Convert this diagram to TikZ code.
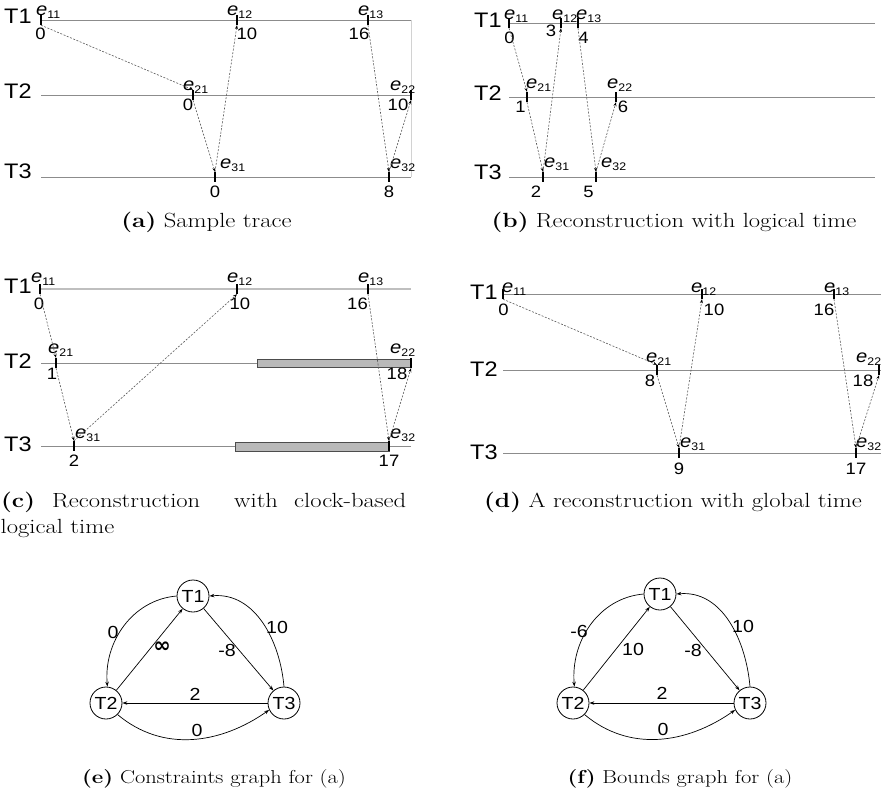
\documentclass[tikz,border=0pt]{standalone}
\usepackage{fontspec}
\usepackage{graphicx}
\usetikzlibrary{arrows.meta}
\newfontfamily\dsf{Liberation Sans}[FakeStretch=1.12]
\newfontfamily\djv{DejaVu Sans}
\newcommand\evt[1]{\textit{e}\raisebox{-3pt}{\fontsize{11}{11}\selectfont #1}}
\newcommand\capsz{\fontsize{20.5}{24.6}\selectfont}
\newcommand\capt[2]{\scalebox{1.2}[1]{\capsz\textbf{(#1)} #2}}
\newcommand\capts[2]{\scalebox{1.2}[1]{\fontsize{18.7}{22}\selectfont\textbf{(#1)} #2}}
\newcommand\capw[1]{\scalebox{1.2}[1]{\capsz #1}}
\tikzset{
  tline/.style={draw=gray!90, line width=0.9pt},
  tlinelight/.style={draw=gray!50, line width=1.3pt},
  tickn/.style={rectangle, fill=black, draw=none, inner sep=0pt, minimum width=2.4pt, minimum height=10pt},
  msg/.style={draw=gray!70!black, line width=0.6pt, dash pattern=on 2pt off 1.5pt, -{Stealth[length=4pt,width=3pt,black]}},
  tlab/.style={font=\dsf\fontsize{21}{21}\selectfont, inner sep=0pt, anchor=base west},
  numl/.style={font=\dsf\fontsize{16.5}{16.5}\selectfont, inner sep=0pt, anchor=base},
  evl/.style={font=\dsf\fontsize{18}{18}\selectfont, inner sep=0pt, anchor=base west},
  capn/.style={inner sep=0pt, anchor=base},
  capln/.style={inner sep=0pt, anchor=base west},
  hbar/.style={fill=gray!55, draw=gray!60!black, line width=0.5pt},
  gnode/.style={circle, draw=black, line width=0.8pt, minimum size=32pt, inner sep=0pt, font=\dsf\fontsize{17.5}{17.5}\selectfont},
  gedge/.style={draw=black, line width=0.7pt, -{Stealth[length=5pt,width=3.5pt]}},
  elab/.style={font=\dsf\fontsize{17.5}{17.5}\selectfont, inner sep=0pt},
}
\begin{document}
\begin{tikzpicture}[x=1pt,y=-1pt]
\useasboundingbox (0,0) rectangle (881,790);

% ================= (a) =================
\coordinate (a1s) at (41,20);  \coordinate (a1e) at (411,20);
\coordinate (a2s) at (41,95);  \coordinate (a2e) at (411,95);
\coordinate (a3s) at (41,177); \coordinate (a3e) at (411,177);
\draw[tline] (a1s) -- (a1e);
\draw[tline] (a2s) -- (a2e);
\draw[tline] (a3s) -- (a3e);
\draw[draw=gray!35, line width=0.6pt] (a1e) -- (a3e);
\node[tlab] (aT1) at (4,23) {T1};
\node[tlab] (aT2) at (4,98) {T2};
\node[tlab] (aT3) at (4,178) {T3};
\node[tickn] (a11) at (41,20) {};
\node[tickn] (a12) at (237,20) {};
\node[tickn] (a13) at (368,20) {};
\node[tickn] (a21) at (193,95) {};
\node[tickn] (a22) at (411,95) {};
\node[tickn] (a31) at (215,177) {};
\node[tickn] (a32) at (389,177) {};
\node[evl] (a11l) at (36,15) {\evt{11}};
\node[evl] (a12l) at (227,15) {\evt{12}};
\node[evl] (a13l) at (358,15) {\evt{13}};
\node[evl] (a21l) at (183,90) {\evt{21}};
\node[evl] (a22l) at (390,90) {\evt{22}};
\node[evl] (a31l) at (220,168) {\evt{31}};
\node[evl] (a32l) at (390,168) {\evt{32}};
\node[numl] (a11n) at (40.5,39) {0};
\node[numl] (a12n) at (247,39) {10};
\node[numl] (a13n) at (359,39) {16};
\node[numl] (a21n) at (188,110) {0};
\node[numl] (a22n) at (398,110) {10};
\node[numl] (a31n) at (215,197) {0};
\node[numl] (a32n) at (389,197) {8};
\draw[msg] (a11.south) -- (a21.north);
\draw[msg] (a21.south) -- (a31.north);
\draw[msg] (a31.north) -- (a12.south);
\draw[msg] (a13.south) -- (a32.north);
\draw[msg] (a32.north) -- (a22.south);
\node[capn] (capa) at (206.5,227) {\capt{a}{Sample trace}};

% ================= (b) =================
\coordinate (b1s) at (509,23);  \coordinate (b1e) at (875,23);
\coordinate (b2s) at (509,97);  \coordinate (b2e) at (875,97);
\coordinate (b3s) at (509,177); \coordinate (b3e) at (875,177);
\draw[tline] (b1s) -- (b1e);
\draw[tline] (b2s) -- (b2e);
\draw[tline] (b3s) -- (b3e);
\node[tlab] (bT1) at (474,27) {T1};
\node[tlab] (bT2) at (474,100) {T2};
\node[tlab] (bT3) at (474,179) {T3};
\node[tickn] (b11) at (509,23) {};
\node[tickn] (b12) at (561,23) {};
\node[tickn] (b13) at (578,23) {};
\node[tickn] (b21) at (527,97) {};
\node[tickn] (b22) at (616,97) {};
\node[tickn] (b31) at (543,177) {};
\node[tickn] (b32) at (596,177) {};
\node[evl] (b11l) at (504,19) {\evt{11}};
\node[evl] (b12l) at (552,19) {\evt{12}};
\node[evl] (b13l) at (576,19) {\evt{13}};
\node[evl] (b21l) at (526,88) {\evt{21}};
\node[evl] (b22l) at (607,88) {\evt{22}};
\node[evl] (b31l) at (544,167) {\evt{31}};
\node[evl] (b32l) at (601,167) {\evt{32}};
\node[numl] (b11n) at (509.5,43) {0};
\node[numl] (b12n) at (551,36) {3};
\node[numl] (b13n) at (583.5,43) {4};
\node[numl] (b21n) at (520.5,112) {1};
\node[numl] (b22n) at (623,112) {6};
\node[numl] (b31n) at (536,197) {2};
\node[numl] (b32n) at (588.5,197) {5};
\draw[msg] (b11.south) -- (b21.north);
\draw[msg] (b21.south) -- (b31.north);
\draw[msg] (b31.north) -- (b12.south);
\draw[msg] (b13.south) -- (b32.north);
\draw[msg] (b32.north) -- (b22.south);
\node[capn] (capb) at (674,227) {\capt{b}{Reconstruction with logical time}};

% ================= (c) =================
\coordinate (c1s) at (41,289);  \coordinate (c1e) at (411,289);
\coordinate (c2s) at (41,363);  \coordinate (c2e) at (411,363);
\coordinate (c3s) at (41,446);  \coordinate (c3e) at (411,446);
\draw[tlinelight] (c1s) -- (c1e);
\draw[tline] (c2s) -- (c2e);
\draw[tline] (c3s) -- (c3e);
\draw[hbar] (257,359) rectangle (411,367);
\draw[hbar] (235,442) rectangle (389,451);
\node[tlab] (cT1) at (4,293) {T1};
\node[tlab] (cT2) at (4,368) {T2};
\node[tlab] (cT3) at (4,451) {T3};
\node[tickn] (c11) at (40,289) {};
\node[tickn] (c12) at (237,289) {};
\node[tickn] (c13) at (368,289) {};
\node[tickn] (c21) at (56,363) {};
\node[tickn] (c22) at (411,363) {};
\node[tickn] (c31) at (74,446) {};
\node[tickn] (c32) at (389,446) {};
\node[evl] (c11l) at (31,282) {\evt{11}};
\node[evl] (c12l) at (227,282) {\evt{12}};
\node[evl] (c13l) at (358,282) {\evt{13}};
\node[evl] (c21l) at (48,353) {\evt{21}};
\node[evl] (c22l) at (390,353) {\evt{22}};
\node[evl] (c31l) at (75,438) {\evt{31}};
\node[evl] (c32l) at (390,438) {\evt{32}};
\node[numl] (c11n) at (39,309) {0};
\node[numl] (c12n) at (240,309) {10};
\node[numl] (c13n) at (357.5,309) {16};
\node[numl] (c21n) at (52,379) {1};
\node[numl] (c22n) at (397,379) {18};
\node[numl] (c31n) at (74,466) {2};
\node[numl] (c32n) at (389,466) {17};
\draw[msg] (c11.south) -- (c21.north);
\draw[msg] (c21.south) -- (c31.north);
\draw[msg] (c31.north) -- (c12.south);
\draw[msg] (c13.south) -- (c32.north);
\draw[msg] (c32.north) -- (c22.south);
\node[capln] (capc1) at (1,507) {\capw{\textbf{(c)}}};
\node[capln] (capc2) at (52,507) {\capw{Reconstruction}};
\node[capln] (capc3) at (234,507) {\capw{with}};
\node[capln] (capc4) at (294,507) {\capw{clock-based}};
\node[capln] (capc5) at (0.5,533) {\capw{logical time}};

% ================= (d) =================
\coordinate (d1s) at (503,294);  \coordinate (d1e) at (881,294);
\coordinate (d2s) at (503,370);  \coordinate (d2e) at (881,370);
\coordinate (d3s) at (503,453);  \coordinate (d3e) at (881,453);
\draw[tline] (d1s) -- (d1e);
\draw[tline] (d2s) -- (d2e);
\draw[tline] (d3s) -- (d3e);
\node[tlab] (dT1) at (470,299) {T1};
\node[tlab] (dT2) at (470,376) {T2};
\node[tlab] (dT3) at (470,459) {T3};
\node[tickn] (d11) at (503,294) {};
\node[tickn] (d12) at (702,294) {};
\node[tickn] (d13) at (834,294) {};
\node[tickn] (d21) at (657,370) {};
\node[tickn] (d22) at (879,370) {};
\node[tickn] (d31) at (679,453) {};
\node[tickn] (d32) at (856,453) {};
\node[evl] (d11l) at (502,292) {\evt{11}};
\node[evl] (d12l) at (691,292) {\evt{12}};
\node[evl] (d13l) at (824,292) {\evt{13}};
\node[evl] (d21l) at (646,362) {\evt{21}};
\node[evl] (d22l) at (856,362) {\evt{22}};
\node[evl] (d31l) at (680,447) {\evt{31}};
\node[evl] (d32l) at (856,447) {\evt{32}};
\node[numl] (d11n) at (503.5,315) {0};
\node[numl] (d12n) at (714,315) {10};
\node[numl] (d13n) at (824,315) {16};
\node[numl] (d21n) at (650,386) {8};
\node[numl] (d22n) at (863,386) {18};
\node[numl] (d31n) at (679,474) {9};
\node[numl] (d32n) at (856,474) {17};
\draw[msg] (d11.south) -- (d21.north);
\draw[msg] (d21.south) -- (d31.north);
\draw[msg] (d31.north) -- (d12.south);
\draw[msg] (d13.south) -- (d32.north);
\draw[msg] (d32.north) -- (d22.south);
\node[capn] (capd) at (673,507) {\capt{d}{A reconstruction with global time}};

% ================= (e) =================
\node[gnode] (eT1) at (193,596) {T1};
\node[gnode] (eT2) at (106,703) {T2};
\node[gnode] (eT3) at (284,703) {T3};
\draw[gedge] (eT1.180) to[out=185,in=95] (eT2.85);
\draw[gedge] (eT2) -- (eT1);
\draw[gedge] (eT1) -- (eT3);
\draw[gedge] (eT3.90) to[out=95,in=5] (eT1.0);
\draw[gedge] (eT3) -- (eT2);
\draw[gedge] (eT2.-45) to[out=-40,in=-145] (eT3.-155);
\node[elab] (eL1) at (113,632) {0};
\node[elab] (eL2) at (162,647) {{\djv\bfseries\fontsize{21}{21}\selectfont ∞}};
\node[elab] (eL3) at (227,650) {-8};
\node[elab] (eL4) at (277,627) {10};
\node[elab] (eL5) at (195,694) {2};
\node[elab] (eL6) at (197,730) {0};
\node[capn] (cape) at (214,783) {\capts{e}{Constraints graph for (a)}};

% ================= (f) =================
\node[gnode] (fT1) at (660,594) {T1};
\node[gnode] (fT2) at (573,703) {T2};
\node[gnode] (fT3) at (750,703) {T3};
\draw[gedge] (fT1.180) to[out=185,in=95] (fT2.85);
\draw[gedge] (fT2) -- (fT1);
\draw[gedge] (fT1) -- (fT3);
\draw[gedge] (fT3.90) to[out=95,in=5] (fT1.0);
\draw[gedge] (fT3) -- (fT2);
\draw[gedge] (fT2.-45) to[out=-40,in=-145] (fT3.-155);
\node[elab] (fL1) at (579,631) {-6};
\node[elab] (fL2) at (633,649) {10};
\node[elab] (fL3) at (693,650) {-8};
\node[elab] (fL4) at (743,626) {10};
\node[elab] (fL5) at (662,693) {2};
\node[elab] (fL6) at (663,729) {0};
\node[capn] (capf) at (680,783) {\capts{f}{Bounds graph for (a)}};
\end{tikzpicture}
\end{document}
